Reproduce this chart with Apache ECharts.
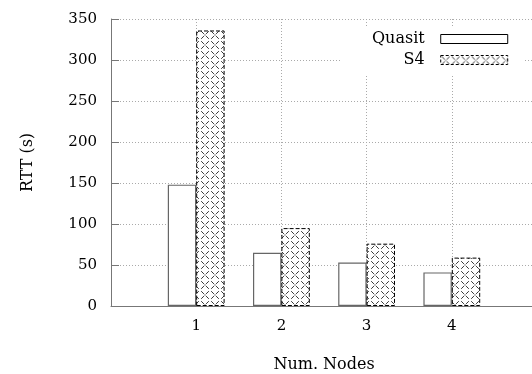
<!DOCTYPE html>
<html><head><meta charset="utf-8">
<script src="https://cdn.jsdelivr.net/npm/echarts@6/dist/echarts.min.js"></script>
<style>html,body{margin:0;padding:0;background:#fff}#c{width:532px;height:374px}</style>
</head><body><div id="c"></div>
<script>
const categories = ['1', '2', '3', '4'];
const quasitValues = [148, 65, 53, 41];
const s4Values = [336, 95, 76, 59];
const seriesNames = ['Quasit', 'S4'];
const axisTitles = { x: 'Num. Nodes', y: 'RTT (s)' };

const FONT = 'DejaVu Serif';

function makeHatch() {
  const c = document.createElement('canvas');
  c.width = 10; c.height = 10;
  const g = c.getContext('2d');
  g.fillStyle = '#fff';
  g.fillRect(0, 0, 10, 10);
  g.strokeStyle = '#000';
  g.lineWidth = 0.8;
  g.beginPath();
  g.moveTo(1.2, 1.2); g.lineTo(3.9, 3.9);
  g.moveTo(6.1, 6.1); g.lineTo(8.8, 8.8);
  g.moveTo(8.8, 1.2); g.lineTo(6.1, 3.9);
  g.moveTo(3.9, 6.1); g.lineTo(1.2, 8.8);
  g.stroke();
  g.fillStyle = '#000';
  g.fillRect(4.5, 4.5, 1, 1);
  return c;
}
const hatch = { image: makeHatch(), repeat: 'repeat' };

const axisCats = [''].concat(categories, ['']);
const padData = arr => [null].concat(arr, [null]);

const chart = echarts.init(document.getElementById('c'), null, { renderer: 'canvas' });
chart.setOption({
  animation: false,
  backgroundColor: '#fff',
  textStyle: { fontFamily: FONT },
  grid: { left: 111, right: -5, top: 19, bottom: 68, containLabel: false, outerBoundsMode: 'none' },
  legend: {
    orient: 'vertical', align: 'right', left: 341, top: 27,
    padding: [4, 15, 6, 31], backgroundColor: '#fff',
    itemWidth: 67, itemHeight: 9, itemGap: 5, icon: 'rect',
    textStyle: { fontFamily: FONT, fontSize: 16, color: '#000', padding: [0, 11, 0, 0], lineHeight: 16 },
    data: [
      { name: seriesNames[0], itemStyle: { color: '#fff', borderColor: '#000', borderWidth: 1 } },
      { name: seriesNames[1], itemStyle: { color: hatch, borderColor: '#000', borderWidth: 1, borderType: [3, 2] } }
    ]
  },
  xAxis: {
    type: 'category', data: axisCats, boundaryGap: false,
    name: axisTitles.x, nameLocation: 'middle', nameGap: 51,
    nameTextStyle: { fontFamily: FONT, fontSize: 16, color: '#000' },
    axisLine: { show: true, lineStyle: { color: '#777', width: 1 } },
    axisTick: { show: true, inside: true, length: 8, interval: 0, lineStyle: { color: '#777' } },
    axisLabel: { interval: 0, margin: 13, fontFamily: FONT, fontSize: 15, color: '#000' },
    splitLine: { show: true, interval: 0, lineStyle: { color: '#aaa', type: [1, 2], width: 1 } }
  },
  yAxis: {
    type: 'value', min: 0, max: 350, interval: 50,
    name: axisTitles.y, nameLocation: 'middle', nameGap: 75,
    nameTextStyle: { fontFamily: FONT, fontSize: 16, color: '#000' },
    axisLine: { show: true, lineStyle: { color: '#777', width: 1 } },
    axisTick: { show: true, inside: true, length: 8, lineStyle: { color: '#777' } },
    axisLabel: { margin: 14, fontFamily: FONT, fontSize: 15, color: '#000' },
    splitLine: { show: true, lineStyle: { color: '#aaa', type: [1, 2], width: 1 } }
  },
  series: [
    {
      name: seriesNames[0], type: 'bar', data: padData(quasitValues),
      barWidth: '33.33%', barGap: '0%',
      itemStyle: { color: '#fff', borderColor: '#666', borderWidth: 1.2 }
    },
    {
      name: seriesNames[1], type: 'bar', data: padData(s4Values),
      barWidth: '33.33%', barGap: '0%',
      itemStyle: { color: hatch, borderColor: '#000', borderWidth: 1, borderType: [4, 2] }
    }
  ]
});
</script></body></html>
